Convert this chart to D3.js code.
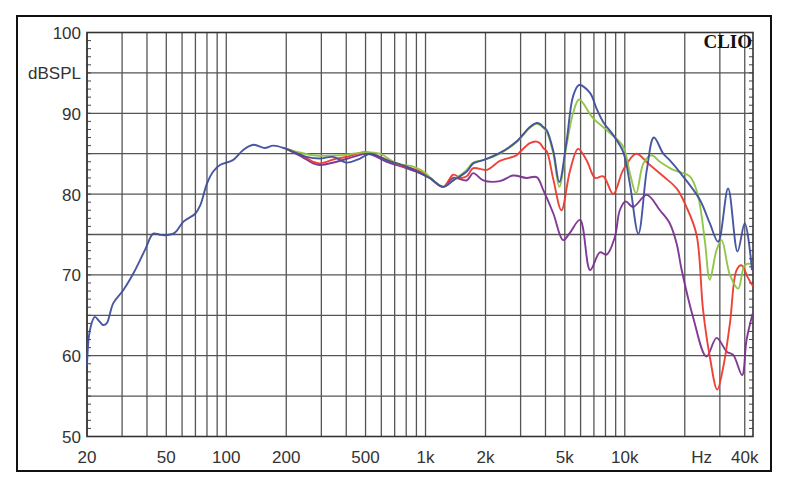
<!DOCTYPE html>
<html><head><meta charset="utf-8">
<script src="https://cdn.jsdelivr.net/npm/d3@7"></script>
<style>body{margin:0;background:#fff}</style>
</head><body>
<svg id="c" width="800" height="491"></svg>
<script>
// ---- data (frequency Hz, level dBSPL) ----
const yLabels = [[100,"100"],[95,"dBSPL"],[90,"90"],[80,"80"],[70,"70"],[60,"60"],[50,"50"]];
const xLabels = [[20,"20"],[50,"50"],[100,"100"],[200,"200"],[500,"500"],[1000,"1k"],[2000,"2k"],[5000,"5k"],[10000,"10k"],[24300,"Hz"],[40000,"40k"]];

const blue = [[20,58.8],[20.7,63.2],[21.9,64.8],[23,64.3],[24.1,63.8],[25.1,64.0],[27.1,66.5],[30.4,68.1],[34.2,70.2],[39.1,73.1],[43,75.1],[46,75.0],[49,74.9],[55,75.2],[61,76.6],[70,77.6],[74,78.6],[80,81.3],[86,82.8],[93,83.6],[108,84.2],[122,85.5],[137,86.1],[156,85.7],[172,86.0],[200,85.6],[253,84.6],[295,84.4],[344,84.6],[402,83.9],[469,84.4],[526,85.0],[638,84.2],[804,83.4],[974,82.4],[1050,82.0],[1227,80.9],[1377,81.7],[1610,82.8],[1735,83.8],[1947,84.2],[2360,85.1],[2860,86.5],[3340,88.3],[3610,88.8],[3750,88.7],[3900,88.3],[4060,87.9],[4380,85.3],[4690,81.5],[5100,86.5],[5500,92.1],[5900,93.5],[6700,92.5],[7210,90.6],[7800,88.9],[8750,87.3],[9820,85.2],[10600,81.3],[11700,75.1],[12900,83.0],[14000,87.0],[15600,85.0],[16800,84.2],[19600,82.2],[23800,79.3],[26700,76.4],[29400,74.1],[33000,80.7],[36800,72.9],[40000,76.4],[43500,70.6]];

const green = [[200,85.6],[230,85.2],[273,84.8],[372,84.8],[506,85.2],[590,85.0],[717,83.8],[870,83.4],[1000,82.6],[1050,82.1],[1227,80.9],[1377,81.7],[1610,83.0],[1735,83.9],[1947,84.2],[2360,85.0],[2860,86.4],[3340,88.2],[3610,88.7],[3900,88.2],[4060,87.7],[4380,85.0],[4690,80.9],[5100,86.0],[5500,90.0],[5900,91.7],[6930,89.4],[8400,87.6],[9800,85.9],[10600,82.6],[11400,80.1],[12400,83.8],[13600,84.8],[15000,84.0],[17500,83.0],[21200,82.2],[23200,80.0],[25200,74.3],[26700,69.4],[28900,73.1],[30600,74.3],[33700,70.0],[37100,68.3],[40000,71.2],[43500,71.4]];

const red = [[200,85.6],[240,84.8],[273,84.0],[295,83.8],[358,84.4],[402,84.6],[506,85.2],[590,84.6],[743,83.6],[938,82.8],[1050,82.0],[1227,80.9],[1377,82.4],[1500,82.0],[1610,82.2],[1735,83.2],[2030,83.0],[2360,84.1],[2860,84.8],[3000,85.3],[3340,86.3],[3610,86.5],[3750,86.3],[3900,85.7],[4060,85.3],[4380,81.8],[4810,78.0],[5300,82.8],[5830,85.6],[6430,84.2],[7100,82.0],[7800,82.2],[8750,80.0],[9820,83.0],[11400,85.0],[13100,83.8],[15600,82.2],[18200,80.7],[20400,78.4],[22900,75.0],[24700,65.7],[26700,59.9],[29100,55.8],[31200,58.6],[33700,64.0],[36400,70.6],[38500,71.2],[41600,69.6],[44000,68.6]];

const purple = [[200,85.6],[240,84.6],[273,83.8],[295,83.6],[358,84.0],[433,84.6],[514,85.0],[638,84.0],[804,83.2],[938,82.6],[1050,82.0],[1227,80.9],[1377,82.0],[1610,81.7],[1735,82.6],[1950,81.7],[2360,81.6],[2750,82.3],[3210,82.0],[3610,82.1],[3900,80.5],[4380,77.6],[4900,74.3],[5300,75.2],[5960,76.8],[6700,70.6],[7500,72.8],[8100,72.5],[8920,74.7],[9440,78.0],[10100,79.1],[11000,78.4],[12900,79.9],[15000,78.0],[16800,76.4],[18200,73.9],[19300,70.6],[22000,64.8],[25700,59.9],[28900,62.2],[32500,60.5],[35000,60.1],[38800,57.6],[40800,61.9],[43800,65.2]];

const series = [
  {name:"purple", data:purple, color:"#7a2f8f"},
  {name:"red", data:red, color:"#ec3a2e"},
  {name:"green", data:green, color:"#8cc43f"},
  {name:"blue", data:blue, color:"#3f4e9e"}
];

// ---- layout ----
const L=87, R=753, T=32.5, B=436.5;
const svg = d3.select("#c");
const x = d3.scaleLog().domain([20,44000]).range([L,R]);
const y = d3.scaleLinear().domain([50,100]).range([B,T]);

// outer frame
svg.append("rect").attr("x",17).attr("y",16).attr("width",754).attr("height",455)
  .attr("fill","#fff").attr("stroke","#111").attr("stroke-width",2);

const grid = svg.append("g");
grid.selectAll("line.v").data(x.ticks()).join("line")
  .attr("x1",d=>x(d)).attr("x2",d=>x(d)).attr("y1",T).attr("y2",B)
  .attr("stroke","#555").attr("stroke-width",1.3);
grid.selectAll("line.h").data(d3.range(55,100,5)).join("line")
  .attr("x1",L).attr("x2",R).attr("y1",d=>y(d)).attr("y2",d=>y(d))
  .attr("stroke","#555").attr("stroke-width",1.3);

// minor ticks left & right
const minor = d3.range(50,101,1);
svg.append("g").selectAll("line").data(minor).join("line")
  .attr("x1",L).attr("x2",L+4).attr("y1",d=>y(d)).attr("y2",d=>y(d))
  .attr("stroke","#444").attr("stroke-width",1);
svg.append("g").selectAll("line").data(minor).join("line")
  .attr("x1",R-4).attr("x2",R).attr("y1",d=>y(d)).attr("y2",d=>y(d))
  .attr("stroke","#444").attr("stroke-width",1);

// plot border
svg.append("rect").attr("x",L).attr("y",T).attr("width",R-L).attr("height",B-T)
  .attr("fill","none").attr("stroke","#333").attr("stroke-width",1.6);

// curves
const line = d3.line().x(d=>x(d[0])).y(d=>y(d[1])).curve(d3.curveCatmullRom.alpha(0.5));
svg.append("g").selectAll("path").data(series).join("path")
  .attr("d",d=>line(d.data)).attr("fill","none")
  .attr("stroke",d=>d.color).attr("stroke-width",1.9)
  .attr("stroke-linejoin","round").attr("opacity",0.95);

// labels
const font = "'Liberation Sans', Arial, sans-serif";
svg.append("g").selectAll("text").data(yLabels).join("text")
  .attr("x",81).attr("y",d=>y(d[0])+6.5).attr("text-anchor","end")
  .attr("font-family",font).attr("font-size",17).attr("fill","#333").text(d=>d[1]);
svg.append("g").selectAll("text").data(xLabels).join("text")
  .attr("x",d=>x(d[0])).attr("y",463).attr("text-anchor","middle")
  .attr("font-family",font).attr("font-size",17).attr("fill","#333").text(d=>d[1]);

svg.append("text").attr("x",752).attr("y",48).attr("text-anchor","end")
  .attr("font-family","'Liberation Serif', 'DejaVu Serif', serif").attr("font-weight","bold")
  .attr("font-size",19).attr("fill","#111").text("CLIO");
</script>
</body></html>
